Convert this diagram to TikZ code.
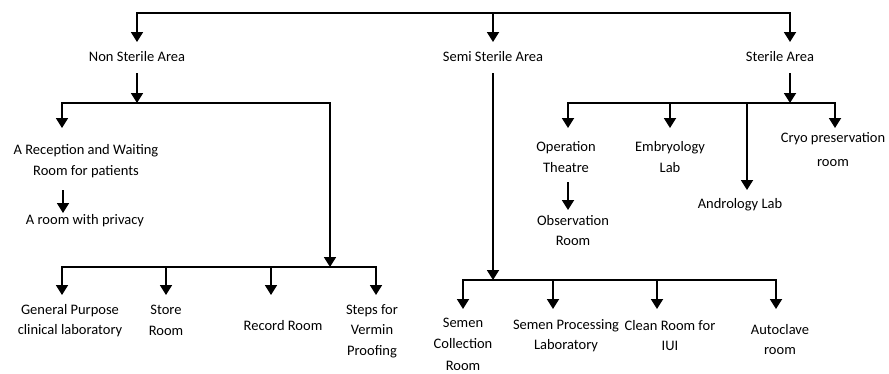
\documentclass[tikz,border=0pt]{standalone}
\usepackage{fontspec}
\setmainfont{Carlito}
\usetikzlibrary{arrows.meta}
\begin{document}
\begin{tikzpicture}[x=1pt,y=-1pt,
  lbl/.style={align=center,inner sep=0pt,font=\fontsize{14.5}{20.5}\selectfont},
  ln/.style={line width=1.8pt},
  arr/.style={ln,-{Triangle[width=12pt,length=10pt]}}]
\useasboundingbox (0,0) rectangle (889,373);

% ---- labels ----
\node[lbl] (ns)  at (137,57) {Non Sterile Area};
\node[lbl] (sem) at (493,57) {Semi Sterile Area};
\node[lbl] (st)  at (780,57) {Sterile Area};

\node[lbl] (rec)  at (86,161)  {A Reception and Waiting\\Room for patients};
\node[lbl] (priv) at (85,221)  {A room with privacy};
\node[lbl] (gp)   at (70,320.5) {General Purpose\\clinical laboratory};
\node[lbl] (sto)  at (166,320.5) {Store\\Room};
\node[lbl] (rr)   at (283,326) {Record Room};
\node[lbl] (sv)   at (372,331) {Steps for\\Vermin\\Proofing};

\node[lbl,font=\fontsize{14.5}{21.5}\selectfont] (sc) at (463,344) {Semen\\Collection\\Room};
\node[lbl] (sp) at (566,335.5) {Semen Processing\\Laboratory};
\node[lbl] (cr) at (670,335.5) {Clean Room for\\IUI};
\node[lbl] (ac) at (780,339.5) {Autoclave\\room};

\node[lbl] (ot) at (566,157) {Operation\\Theatre};
\node[lbl] (em) at (670,157) {Embryology\\Lab};
\node[lbl,font=\fontsize{14.5}{24}\selectfont] (cp) at (833,150) {Cryo preservation\\room};
\node[lbl] (an) at (740,205) {Andrology Lab};
\node[lbl] (ob) at (573,230.5) {Observation\\Room};

% ---- junctions and arrow tips ----
\coordinate (topM) at (493,13);
\coordinate (nsT)  at (137,42);
\coordinate (semT) at (493,42);
\coordinate (stT)  at (790,42);

\coordinate (nsJ)  at (137,103);
\coordinate (recT) at (62,128);
\coordinate (nsB)  at (330,267);
\coordinate (privT) at (63,213);
\coordinate (gpT)  at (62,295);
\coordinate (stoT) at (166,295);
\coordinate (rrT)  at (271,295);
\coordinate (svT)  at (376,295);

\coordinate (semB) at (493,280);
\coordinate (scT)  at (463,309);
\coordinate (spT)  at (553,309);
\coordinate (crT)  at (657,309);
\coordinate (acT)  at (776,309);

\coordinate (stJ)  at (790,103);
\coordinate (otT)  at (568,128);
\coordinate (emT)  at (670,128);
\coordinate (anT)  at (747,190);
\coordinate (cpT)  at (835,128);
\coordinate (obT)  at (568,210);

% ---- top level ----
\draw[arr] (topM) -| (nsT);
\draw[arr] (topM) -- (semT);
\draw[arr] (topM) -| (stT);

% ---- non sterile area ----
\draw[arr] (ns.south |- 0,73) -- (nsJ);
\draw[arr] (nsJ) -| (recT);
\draw[arr] (nsJ) -| (nsB);
\draw[arr] (63,190) -- (privT);
\draw[arr] (nsB) -| (gpT);
\draw[arr] (nsB) -| (stoT);
\draw[arr] (nsB) -| (rrT);
\draw[arr] (nsB) -| (svT);

% ---- semi sterile area ----
\draw[arr] (sem.south |- 0,73) -- (semB);
\draw[arr] (semB) -| (scT);
\draw[arr] (semB) -| (spT);
\draw[arr] (semB) -| (crT);
\draw[arr] (semB) -| (acT);

% ---- sterile area ----
\draw[arr] (stT |- 0,73) -- (stJ);
\draw[arr] (stJ) -| (otT);
\draw[arr] (stJ) -| (emT);
\draw[arr] (stJ) -| (anT);
\draw[arr] (stJ) -| (cpT);
\draw[arr] (otT |- 0,182) -- (obT);
\end{tikzpicture}
\end{document}
